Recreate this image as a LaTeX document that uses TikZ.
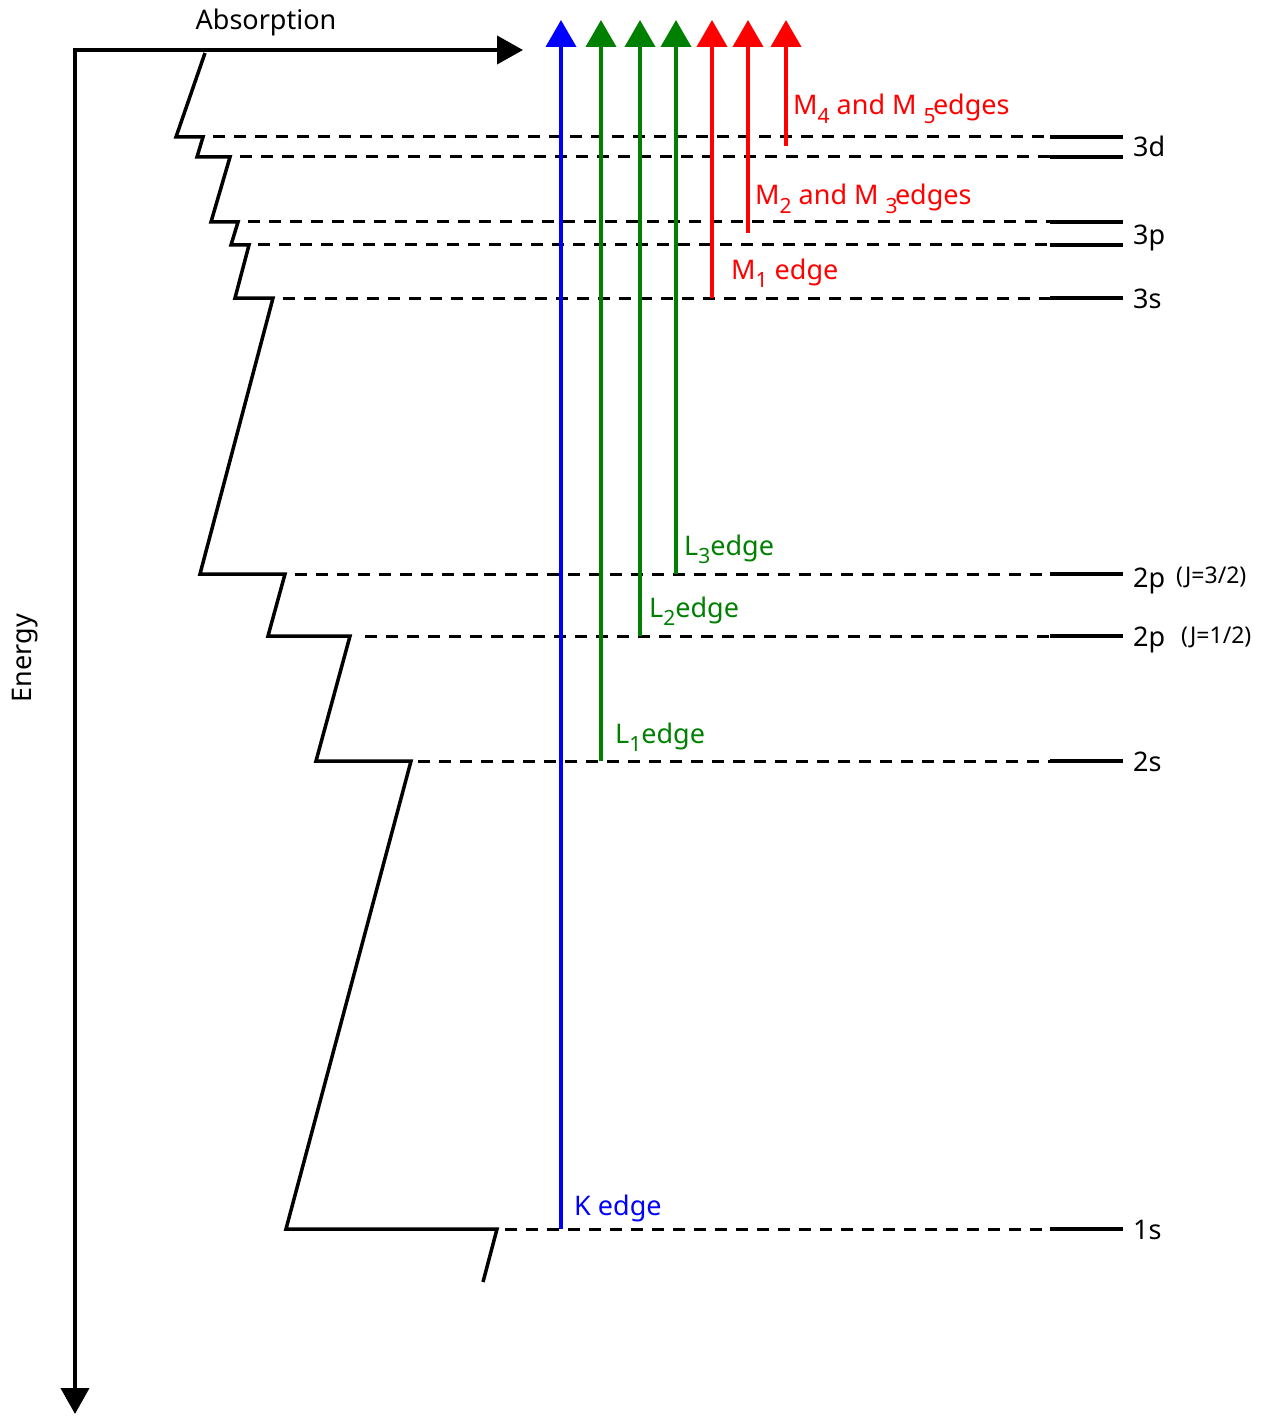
\documentclass[tikz,border=0pt]{standalone}
\usepackage{fontspec}
\setmainfont{Noto Sans}
\usetikzlibrary{arrows.meta}
\definecolor{eblue}{RGB}{0,0,255}
\definecolor{egreen}{RGB}{0,128,0}
\definecolor{ered}{RGB}{255,0,0}
\newcommand\lvsub[1]{\raisebox{-0.3em}{\fontsize{21}{25}\selectfont #1}}
\begin{document}
\begin{tikzpicture}[x=1pt,y=-1pt,
  lvl/.style={line width=3pt, dash pattern=on 12pt off 9pt},
  bar/.style={line width=4.5pt},
  saw/.style={line width=3.5pt, line join=miter},
  axis/.style={line width=4pt, line join=miter, {Triangle[length=26pt,width=28pt]}-{Triangle[length=26pt,width=28pt]}},
  edgearrow/.style={line width=4pt, -{Triangle[length=27pt,width=30pt]}},
  lab/.style={anchor=base west, inner sep=0pt, font=\fontsize{27}{32}\selectfont},
  smalllab/.style={anchor=base west, inner sep=0pt, font=\fontsize{23}{27}\selectfont}]
\useasboundingbox (0,0) rectangle (1280,1423);

% axes
\coordinate (xend) at (523,50);
\coordinate (origin) at (75,50);
\coordinate (yend) at (75,1414);
\draw[axis] (xend) -- (origin) -- (yend);
\node[lab, anchor=base] (absorption) at (266,30) {Absorption};
\node[lab, anchor=center, rotate=90] (energy) at (25,658) {Energy};

% sawtooth absorption curve
\draw[saw] (205,53) -- (176,137) -- (203,137) -- (197,157) -- (230,157)
  -- (211,222) -- (238,222) -- (231,245) -- (249,245) -- (235,298) -- (273,298)
  -- (200,574) -- (285,574) -- (268,636) -- (350,636) -- (316,761) -- (411,761)
  -- (286,1229) -- (497,1229) -- (483,1282);

% levels: dashed lines and bars
\foreach \nm/\xs/\yy in {da/213/137, db/240/157, pa/248/222, pb/258/245, s3/283/298,
                        pt/295/574, po/365/636, s2/418/761, s1/505/1229} {
  \coordinate (\nm-start) at (\xs,\yy);
  \coordinate (\nm-mid) at (1050,\yy);
  \coordinate (\nm-end) at (1123,\yy);
  \draw[lvl] (\nm-start) -- (\nm-mid);
  \draw[bar] (\nm-mid) -- (\nm-end);
}

% level labels
\node[lab] (l3d) at (1133,157) {3d};
\node[lab] (l3p) at (1133,245) {3p};
\node[lab] (l3s) at (1133,308) {3s};
\node[lab] (l2pt) at (1133,587) {2p};
\node[smalllab] (j32) at (1176,583) {(J=3/2)};
\node[lab] (l2po) at (1133,646) {2p};
\node[smalllab] (j12) at (1181,643) {(J=1/2)};
\node[lab] (l2s) at (1133,771) {2s};
\node[lab] (l1s) at (1133,1239) {1s};

% edge arrows
\coordinate (kb) at (561,1229);   \coordinate (kt) at (561,20);
\coordinate (l1b) at (601,761);   \coordinate (l1t) at (601,20);
\coordinate (l2b) at (640,636);   \coordinate (l2t) at (640,20);
\coordinate (l3b) at (676,574);   \coordinate (l3t) at (676,20);
\coordinate (m1b) at (712,298);   \coordinate (m1t) at (712,20);
\coordinate (m23b) at (748,233);  \coordinate (m23t) at (748,20);
\coordinate (m45b) at (786,146);  \coordinate (m45t) at (786,20);
\draw[edgearrow, eblue] (kb) -- (kt);
\draw[edgearrow, egreen] (l1b) -- (l1t);
\draw[edgearrow, egreen] (l2b) -- (l2t);
\draw[edgearrow, egreen] (l3b) -- (l3t);
\draw[edgearrow, ered] (m1b) -- (m1t);
\draw[edgearrow, ered] (m23b) -- (m23t);
\draw[edgearrow, ered] (m45b) -- (m45t);

% edge labels
\node[lab, text=eblue] (kl) at (574,1215) {K edge};
\node[lab, text=egreen] (l1l) at (615,743) {L\lvsub{1}edge};
\node[lab, text=egreen] (l2l) at (649,617) {L\lvsub{2}edge};
\node[lab, text=egreen] (l3l) at (684,555) {L\lvsub{3}edge};
\node[lab, text=ered] (m1l) at (731,279) {M\lvsub{1} edge};
\node[lab, text=ered] (m23l) at (755,205) {M\lvsub{2} and M \lvsub{3}\hspace{-0.1em}edges};
\node[lab, text=ered] (m45l) at (793,115) {M\lvsub{4} and M \lvsub{5}\hspace{-0.1em}edges};
\end{tikzpicture}
\end{document}
